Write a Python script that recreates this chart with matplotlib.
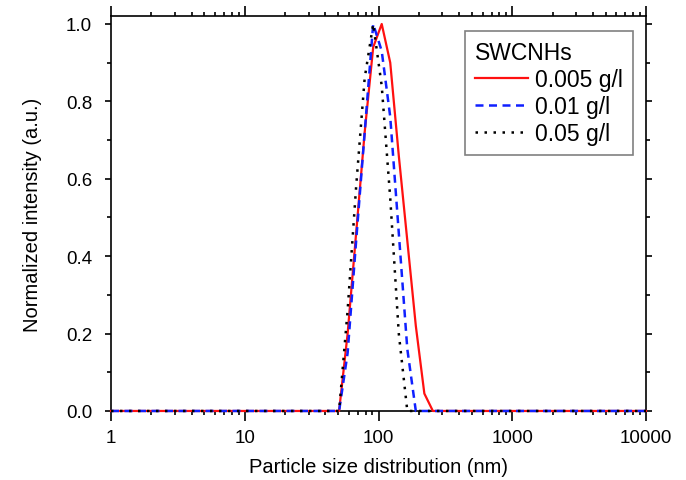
import matplotlib
matplotlib.use("Agg")
import matplotlib.pyplot as plt
from matplotlib.ticker import LogLocator, MultipleLocator, FixedLocator, FixedFormatter

plt.rcParams["font.family"] = ["Liberation Sans", "DejaVu Sans"]

# particle size bins (nm) and normalized intensities
sizes = [1, 43.82, 50.75, 58.77, 68.06, 78.82, 91.28, 105.7, 122.4, 141.8,
         164.2, 190.1, 220.2, 255.0, 295.3, 10000]
red_005 = [0, 0, 0, 0.20, 0.46, 0.72, 0.94, 1.00, 0.90, 0.66, 0.44, 0.22, 0.045, 0, 0, 0]
blue_01 = [0, 0, 0, 0.15, 0.44, 0.72, 1.00, 0.93, 0.76, 0.46, 0.16, 0, 0, 0, 0, 0]
black_05 = [0, 0, 0, 0.26, 0.58, 0.86, 1.00, 0.84, 0.55, 0.20, 0, 0, 0, 0, 0, 0]

labels = ["0.005 g/l", "0.01 g/l", "0.05 g/l"]
xticks = [1, 10, 100, 1000, 10000]
xtick_labels = ["1", "10", "100", "1000", "10000"]

fig = plt.figure(figsize=(6.86, 4.81), dpi=100)
ax = fig.add_axes([0.1618, 0.1435, 0.9417 - 0.1618, 0.9647 - 0.1435])

ax.plot(sizes, red_005, color="#ff1010", lw=1.6, label=labels[0], zorder=3, clip_on=False)
ax.plot(sizes, blue_01, color="#1020ff", lw=1.8, ls=(0, (3.2, 2.2)), label=labels[1], zorder=3, clip_on=False)
ax.plot(sizes, black_05, color="black", lw=1.8, ls=(0, (1, 2.6)), label=labels[2], zorder=3, clip_on=False)

ax.set_xscale("log")
ax.set_xlim(1, 10000)
ax.set_ylim(0, 1.0207)

ax.xaxis.set_major_locator(FixedLocator(xticks))
ax.xaxis.set_major_formatter(FixedFormatter(xtick_labels))
ax.xaxis.set_minor_locator(LogLocator(base=10, subs=range(2, 10)))
ax.yaxis.set_major_locator(MultipleLocator(0.2))
ax.yaxis.set_minor_locator(MultipleLocator(0.1))
ax.yaxis.set_major_formatter(plt.FuncFormatter(lambda v, p: f"{v:.1f}"))

ax.tick_params(axis="both", which="both", direction="out", top=True, right=True,
               width=1.2, labelsize=13.5)
ax.tick_params(axis="x", which="major", length=7.2, pad=6)
ax.tick_params(axis="x", which="minor", length=3)
ax.tick_params(axis="y", which="major", length=4.5, pad=9)
ax.tick_params(axis="y", which="minor", length=3)
for s in ax.spines.values():
    s.set_linewidth(1.2)

ax.set_xlabel("Particle size distribution (nm)", fontsize=14.5, labelpad=8)
ax.set_ylabel("Normalized intensity (a.u.)", fontsize=14.5, labelpad=17)

leg = ax.legend(title="SWCNHs", loc="upper right", bbox_to_anchor=(0.9757, 0.962),
                borderaxespad=0, fontsize=16.5, title_fontsize=16.5, alignment="left",
                handlelength=2.3, handletextpad=0.3, labelspacing=0.17,
                borderpad=0.45, fancybox=False, framealpha=1)
leg.get_frame().set_edgecolor("#808080")
leg.get_frame().set_linewidth(1.2)

fig.savefig("out.png", dpi=100)
